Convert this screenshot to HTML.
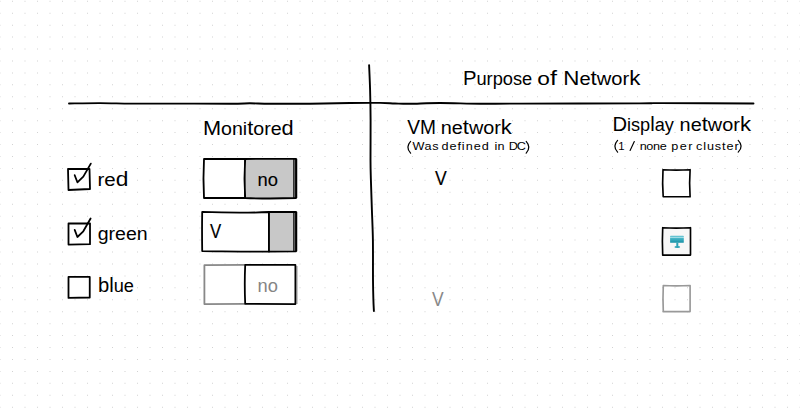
<!DOCTYPE html>
<html><head><meta charset="utf-8">
<style>
html,body{margin:0;padding:0;background:#fff;}
body{width:800px;height:408px;overflow:hidden;}
svg{display:block;}
text{font-family:"Liberation Sans",sans-serif;}
</style></head>
<body>
<svg width="800" height="408" viewBox="0 0 800 408">
<rect width="800" height="408" fill="#fff"/>
<path fill="#d2d2d2" d="M-0.5 0.76h1v1h-1zM12 0.76h1v1h-1zM24.5 0.76h1v1h-1zM37 0.76h1v1h-1zM49.5 0.76h1v1h-1zM62 0.76h1v1h-1zM74.5 0.76h1v1h-1zM87 0.76h1v1h-1zM99.5 0.76h1v1h-1zM112 0.76h1v1h-1zM124.5 0.76h1v1h-1zM137 0.76h1v1h-1zM149.5 0.76h1v1h-1zM162 0.76h1v1h-1zM174.5 0.76h1v1h-1zM187 0.76h1v1h-1zM199.5 0.76h1v1h-1zM212 0.76h1v1h-1zM224.5 0.76h1v1h-1zM237 0.76h1v1h-1zM249.5 0.76h1v1h-1zM262 0.76h1v1h-1zM274.5 0.76h1v1h-1zM287 0.76h1v1h-1zM299.5 0.76h1v1h-1zM312 0.76h1v1h-1zM324.5 0.76h1v1h-1zM337 0.76h1v1h-1zM349.5 0.76h1v1h-1zM362 0.76h1v1h-1zM374.5 0.76h1v1h-1zM387 0.76h1v1h-1zM399.5 0.76h1v1h-1zM412 0.76h1v1h-1zM424.5 0.76h1v1h-1zM437 0.76h1v1h-1zM449.5 0.76h1v1h-1zM462 0.76h1v1h-1zM474.5 0.76h1v1h-1zM487 0.76h1v1h-1zM499.5 0.76h1v1h-1zM512 0.76h1v1h-1zM524.5 0.76h1v1h-1zM537 0.76h1v1h-1zM549.5 0.76h1v1h-1zM562 0.76h1v1h-1zM574.5 0.76h1v1h-1zM587 0.76h1v1h-1zM599.5 0.76h1v1h-1zM612 0.76h1v1h-1zM624.5 0.76h1v1h-1zM637 0.76h1v1h-1zM649.5 0.76h1v1h-1zM662 0.76h1v1h-1zM674.5 0.76h1v1h-1zM687 0.76h1v1h-1zM699.5 0.76h1v1h-1zM712 0.76h1v1h-1zM724.5 0.76h1v1h-1zM737 0.76h1v1h-1zM749.5 0.76h1v1h-1zM762 0.76h1v1h-1zM774.5 0.76h1v1h-1zM787 0.76h1v1h-1zM799.5 0.76h1v1h-1zM-0.5 12.70h1v1h-1zM12 12.70h1v1h-1zM24.5 12.70h1v1h-1zM37 12.70h1v1h-1zM49.5 12.70h1v1h-1zM62 12.70h1v1h-1zM74.5 12.70h1v1h-1zM87 12.70h1v1h-1zM99.5 12.70h1v1h-1zM112 12.70h1v1h-1zM124.5 12.70h1v1h-1zM137 12.70h1v1h-1zM149.5 12.70h1v1h-1zM162 12.70h1v1h-1zM174.5 12.70h1v1h-1zM187 12.70h1v1h-1zM199.5 12.70h1v1h-1zM212 12.70h1v1h-1zM224.5 12.70h1v1h-1zM237 12.70h1v1h-1zM249.5 12.70h1v1h-1zM262 12.70h1v1h-1zM274.5 12.70h1v1h-1zM287 12.70h1v1h-1zM299.5 12.70h1v1h-1zM312 12.70h1v1h-1zM324.5 12.70h1v1h-1zM337 12.70h1v1h-1zM349.5 12.70h1v1h-1zM362 12.70h1v1h-1zM374.5 12.70h1v1h-1zM387 12.70h1v1h-1zM399.5 12.70h1v1h-1zM412 12.70h1v1h-1zM424.5 12.70h1v1h-1zM437 12.70h1v1h-1zM449.5 12.70h1v1h-1zM462 12.70h1v1h-1zM474.5 12.70h1v1h-1zM487 12.70h1v1h-1zM499.5 12.70h1v1h-1zM512 12.70h1v1h-1zM524.5 12.70h1v1h-1zM537 12.70h1v1h-1zM549.5 12.70h1v1h-1zM562 12.70h1v1h-1zM574.5 12.70h1v1h-1zM587 12.70h1v1h-1zM599.5 12.70h1v1h-1zM612 12.70h1v1h-1zM624.5 12.70h1v1h-1zM637 12.70h1v1h-1zM649.5 12.70h1v1h-1zM662 12.70h1v1h-1zM674.5 12.70h1v1h-1zM687 12.70h1v1h-1zM699.5 12.70h1v1h-1zM712 12.70h1v1h-1zM724.5 12.70h1v1h-1zM737 12.70h1v1h-1zM749.5 12.70h1v1h-1zM762 12.70h1v1h-1zM774.5 12.70h1v1h-1zM787 12.70h1v1h-1zM799.5 12.70h1v1h-1zM-0.5 24.64h1v1h-1zM12 24.64h1v1h-1zM24.5 24.64h1v1h-1zM37 24.64h1v1h-1zM49.5 24.64h1v1h-1zM62 24.64h1v1h-1zM74.5 24.64h1v1h-1zM87 24.64h1v1h-1zM99.5 24.64h1v1h-1zM112 24.64h1v1h-1zM124.5 24.64h1v1h-1zM137 24.64h1v1h-1zM149.5 24.64h1v1h-1zM162 24.64h1v1h-1zM174.5 24.64h1v1h-1zM187 24.64h1v1h-1zM199.5 24.64h1v1h-1zM212 24.64h1v1h-1zM224.5 24.64h1v1h-1zM237 24.64h1v1h-1zM249.5 24.64h1v1h-1zM262 24.64h1v1h-1zM274.5 24.64h1v1h-1zM287 24.64h1v1h-1zM299.5 24.64h1v1h-1zM312 24.64h1v1h-1zM324.5 24.64h1v1h-1zM337 24.64h1v1h-1zM349.5 24.64h1v1h-1zM362 24.64h1v1h-1zM374.5 24.64h1v1h-1zM387 24.64h1v1h-1zM399.5 24.64h1v1h-1zM412 24.64h1v1h-1zM424.5 24.64h1v1h-1zM437 24.64h1v1h-1zM449.5 24.64h1v1h-1zM462 24.64h1v1h-1zM474.5 24.64h1v1h-1zM487 24.64h1v1h-1zM499.5 24.64h1v1h-1zM512 24.64h1v1h-1zM524.5 24.64h1v1h-1zM537 24.64h1v1h-1zM549.5 24.64h1v1h-1zM562 24.64h1v1h-1zM574.5 24.64h1v1h-1zM587 24.64h1v1h-1zM599.5 24.64h1v1h-1zM612 24.64h1v1h-1zM624.5 24.64h1v1h-1zM637 24.64h1v1h-1zM649.5 24.64h1v1h-1zM662 24.64h1v1h-1zM674.5 24.64h1v1h-1zM687 24.64h1v1h-1zM699.5 24.64h1v1h-1zM712 24.64h1v1h-1zM724.5 24.64h1v1h-1zM737 24.64h1v1h-1zM749.5 24.64h1v1h-1zM762 24.64h1v1h-1zM774.5 24.64h1v1h-1zM787 24.64h1v1h-1zM799.5 24.64h1v1h-1zM-0.5 36.58h1v1h-1zM12 36.58h1v1h-1zM24.5 36.58h1v1h-1zM37 36.58h1v1h-1zM49.5 36.58h1v1h-1zM62 36.58h1v1h-1zM74.5 36.58h1v1h-1zM87 36.58h1v1h-1zM99.5 36.58h1v1h-1zM112 36.58h1v1h-1zM124.5 36.58h1v1h-1zM137 36.58h1v1h-1zM149.5 36.58h1v1h-1zM162 36.58h1v1h-1zM174.5 36.58h1v1h-1zM187 36.58h1v1h-1zM199.5 36.58h1v1h-1zM212 36.58h1v1h-1zM224.5 36.58h1v1h-1zM237 36.58h1v1h-1zM249.5 36.58h1v1h-1zM262 36.58h1v1h-1zM274.5 36.58h1v1h-1zM287 36.58h1v1h-1zM299.5 36.58h1v1h-1zM312 36.58h1v1h-1zM324.5 36.58h1v1h-1zM337 36.58h1v1h-1zM349.5 36.58h1v1h-1zM362 36.58h1v1h-1zM374.5 36.58h1v1h-1zM387 36.58h1v1h-1zM399.5 36.58h1v1h-1zM412 36.58h1v1h-1zM424.5 36.58h1v1h-1zM437 36.58h1v1h-1zM449.5 36.58h1v1h-1zM462 36.58h1v1h-1zM474.5 36.58h1v1h-1zM487 36.58h1v1h-1zM499.5 36.58h1v1h-1zM512 36.58h1v1h-1zM524.5 36.58h1v1h-1zM537 36.58h1v1h-1zM549.5 36.58h1v1h-1zM562 36.58h1v1h-1zM574.5 36.58h1v1h-1zM587 36.58h1v1h-1zM599.5 36.58h1v1h-1zM612 36.58h1v1h-1zM624.5 36.58h1v1h-1zM637 36.58h1v1h-1zM649.5 36.58h1v1h-1zM662 36.58h1v1h-1zM674.5 36.58h1v1h-1zM687 36.58h1v1h-1zM699.5 36.58h1v1h-1zM712 36.58h1v1h-1zM724.5 36.58h1v1h-1zM737 36.58h1v1h-1zM749.5 36.58h1v1h-1zM762 36.58h1v1h-1zM774.5 36.58h1v1h-1zM787 36.58h1v1h-1zM799.5 36.58h1v1h-1zM-0.5 48.52h1v1h-1zM12 48.52h1v1h-1zM24.5 48.52h1v1h-1zM37 48.52h1v1h-1zM49.5 48.52h1v1h-1zM62 48.52h1v1h-1zM74.5 48.52h1v1h-1zM87 48.52h1v1h-1zM99.5 48.52h1v1h-1zM112 48.52h1v1h-1zM124.5 48.52h1v1h-1zM137 48.52h1v1h-1zM149.5 48.52h1v1h-1zM162 48.52h1v1h-1zM174.5 48.52h1v1h-1zM187 48.52h1v1h-1zM199.5 48.52h1v1h-1zM212 48.52h1v1h-1zM224.5 48.52h1v1h-1zM237 48.52h1v1h-1zM249.5 48.52h1v1h-1zM262 48.52h1v1h-1zM274.5 48.52h1v1h-1zM287 48.52h1v1h-1zM299.5 48.52h1v1h-1zM312 48.52h1v1h-1zM324.5 48.52h1v1h-1zM337 48.52h1v1h-1zM349.5 48.52h1v1h-1zM362 48.52h1v1h-1zM374.5 48.52h1v1h-1zM387 48.52h1v1h-1zM399.5 48.52h1v1h-1zM412 48.52h1v1h-1zM424.5 48.52h1v1h-1zM437 48.52h1v1h-1zM449.5 48.52h1v1h-1zM462 48.52h1v1h-1zM474.5 48.52h1v1h-1zM487 48.52h1v1h-1zM499.5 48.52h1v1h-1zM512 48.52h1v1h-1zM524.5 48.52h1v1h-1zM537 48.52h1v1h-1zM549.5 48.52h1v1h-1zM562 48.52h1v1h-1zM574.5 48.52h1v1h-1zM587 48.52h1v1h-1zM599.5 48.52h1v1h-1zM612 48.52h1v1h-1zM624.5 48.52h1v1h-1zM637 48.52h1v1h-1zM649.5 48.52h1v1h-1zM662 48.52h1v1h-1zM674.5 48.52h1v1h-1zM687 48.52h1v1h-1zM699.5 48.52h1v1h-1zM712 48.52h1v1h-1zM724.5 48.52h1v1h-1zM737 48.52h1v1h-1zM749.5 48.52h1v1h-1zM762 48.52h1v1h-1zM774.5 48.52h1v1h-1zM787 48.52h1v1h-1zM799.5 48.52h1v1h-1zM-0.5 60.46h1v1h-1zM12 60.46h1v1h-1zM24.5 60.46h1v1h-1zM37 60.46h1v1h-1zM49.5 60.46h1v1h-1zM62 60.46h1v1h-1zM74.5 60.46h1v1h-1zM87 60.46h1v1h-1zM99.5 60.46h1v1h-1zM112 60.46h1v1h-1zM124.5 60.46h1v1h-1zM137 60.46h1v1h-1zM149.5 60.46h1v1h-1zM162 60.46h1v1h-1zM174.5 60.46h1v1h-1zM187 60.46h1v1h-1zM199.5 60.46h1v1h-1zM212 60.46h1v1h-1zM224.5 60.46h1v1h-1zM237 60.46h1v1h-1zM249.5 60.46h1v1h-1zM262 60.46h1v1h-1zM274.5 60.46h1v1h-1zM287 60.46h1v1h-1zM299.5 60.46h1v1h-1zM312 60.46h1v1h-1zM324.5 60.46h1v1h-1zM337 60.46h1v1h-1zM349.5 60.46h1v1h-1zM362 60.46h1v1h-1zM374.5 60.46h1v1h-1zM387 60.46h1v1h-1zM399.5 60.46h1v1h-1zM412 60.46h1v1h-1zM424.5 60.46h1v1h-1zM437 60.46h1v1h-1zM449.5 60.46h1v1h-1zM462 60.46h1v1h-1zM474.5 60.46h1v1h-1zM487 60.46h1v1h-1zM499.5 60.46h1v1h-1zM512 60.46h1v1h-1zM524.5 60.46h1v1h-1zM537 60.46h1v1h-1zM549.5 60.46h1v1h-1zM562 60.46h1v1h-1zM574.5 60.46h1v1h-1zM587 60.46h1v1h-1zM599.5 60.46h1v1h-1zM612 60.46h1v1h-1zM624.5 60.46h1v1h-1zM637 60.46h1v1h-1zM649.5 60.46h1v1h-1zM662 60.46h1v1h-1zM674.5 60.46h1v1h-1zM687 60.46h1v1h-1zM699.5 60.46h1v1h-1zM712 60.46h1v1h-1zM724.5 60.46h1v1h-1zM737 60.46h1v1h-1zM749.5 60.46h1v1h-1zM762 60.46h1v1h-1zM774.5 60.46h1v1h-1zM787 60.46h1v1h-1zM799.5 60.46h1v1h-1zM-0.5 72.40h1v1h-1zM12 72.40h1v1h-1zM24.5 72.40h1v1h-1zM37 72.40h1v1h-1zM49.5 72.40h1v1h-1zM62 72.40h1v1h-1zM74.5 72.40h1v1h-1zM87 72.40h1v1h-1zM99.5 72.40h1v1h-1zM112 72.40h1v1h-1zM124.5 72.40h1v1h-1zM137 72.40h1v1h-1zM149.5 72.40h1v1h-1zM162 72.40h1v1h-1zM174.5 72.40h1v1h-1zM187 72.40h1v1h-1zM199.5 72.40h1v1h-1zM212 72.40h1v1h-1zM224.5 72.40h1v1h-1zM237 72.40h1v1h-1zM249.5 72.40h1v1h-1zM262 72.40h1v1h-1zM274.5 72.40h1v1h-1zM287 72.40h1v1h-1zM299.5 72.40h1v1h-1zM312 72.40h1v1h-1zM324.5 72.40h1v1h-1zM337 72.40h1v1h-1zM349.5 72.40h1v1h-1zM362 72.40h1v1h-1zM374.5 72.40h1v1h-1zM387 72.40h1v1h-1zM399.5 72.40h1v1h-1zM412 72.40h1v1h-1zM424.5 72.40h1v1h-1zM437 72.40h1v1h-1zM449.5 72.40h1v1h-1zM462 72.40h1v1h-1zM474.5 72.40h1v1h-1zM487 72.40h1v1h-1zM499.5 72.40h1v1h-1zM512 72.40h1v1h-1zM524.5 72.40h1v1h-1zM537 72.40h1v1h-1zM549.5 72.40h1v1h-1zM562 72.40h1v1h-1zM574.5 72.40h1v1h-1zM587 72.40h1v1h-1zM599.5 72.40h1v1h-1zM612 72.40h1v1h-1zM624.5 72.40h1v1h-1zM637 72.40h1v1h-1zM649.5 72.40h1v1h-1zM662 72.40h1v1h-1zM674.5 72.40h1v1h-1zM687 72.40h1v1h-1zM699.5 72.40h1v1h-1zM712 72.40h1v1h-1zM724.5 72.40h1v1h-1zM737 72.40h1v1h-1zM749.5 72.40h1v1h-1zM762 72.40h1v1h-1zM774.5 72.40h1v1h-1zM787 72.40h1v1h-1zM799.5 72.40h1v1h-1zM-0.5 84.34h1v1h-1zM12 84.34h1v1h-1zM24.5 84.34h1v1h-1zM37 84.34h1v1h-1zM49.5 84.34h1v1h-1zM62 84.34h1v1h-1zM74.5 84.34h1v1h-1zM87 84.34h1v1h-1zM99.5 84.34h1v1h-1zM112 84.34h1v1h-1zM124.5 84.34h1v1h-1zM137 84.34h1v1h-1zM149.5 84.34h1v1h-1zM162 84.34h1v1h-1zM174.5 84.34h1v1h-1zM187 84.34h1v1h-1zM199.5 84.34h1v1h-1zM212 84.34h1v1h-1zM224.5 84.34h1v1h-1zM237 84.34h1v1h-1zM249.5 84.34h1v1h-1zM262 84.34h1v1h-1zM274.5 84.34h1v1h-1zM287 84.34h1v1h-1zM299.5 84.34h1v1h-1zM312 84.34h1v1h-1zM324.5 84.34h1v1h-1zM337 84.34h1v1h-1zM349.5 84.34h1v1h-1zM362 84.34h1v1h-1zM374.5 84.34h1v1h-1zM387 84.34h1v1h-1zM399.5 84.34h1v1h-1zM412 84.34h1v1h-1zM424.5 84.34h1v1h-1zM437 84.34h1v1h-1zM449.5 84.34h1v1h-1zM462 84.34h1v1h-1zM474.5 84.34h1v1h-1zM487 84.34h1v1h-1zM499.5 84.34h1v1h-1zM512 84.34h1v1h-1zM524.5 84.34h1v1h-1zM537 84.34h1v1h-1zM549.5 84.34h1v1h-1zM562 84.34h1v1h-1zM574.5 84.34h1v1h-1zM587 84.34h1v1h-1zM599.5 84.34h1v1h-1zM612 84.34h1v1h-1zM624.5 84.34h1v1h-1zM637 84.34h1v1h-1zM649.5 84.34h1v1h-1zM662 84.34h1v1h-1zM674.5 84.34h1v1h-1zM687 84.34h1v1h-1zM699.5 84.34h1v1h-1zM712 84.34h1v1h-1zM724.5 84.34h1v1h-1zM737 84.34h1v1h-1zM749.5 84.34h1v1h-1zM762 84.34h1v1h-1zM774.5 84.34h1v1h-1zM787 84.34h1v1h-1zM799.5 84.34h1v1h-1zM-0.5 96.28h1v1h-1zM12 96.28h1v1h-1zM24.5 96.28h1v1h-1zM37 96.28h1v1h-1zM49.5 96.28h1v1h-1zM62 96.28h1v1h-1zM74.5 96.28h1v1h-1zM87 96.28h1v1h-1zM99.5 96.28h1v1h-1zM112 96.28h1v1h-1zM124.5 96.28h1v1h-1zM137 96.28h1v1h-1zM149.5 96.28h1v1h-1zM162 96.28h1v1h-1zM174.5 96.28h1v1h-1zM187 96.28h1v1h-1zM199.5 96.28h1v1h-1zM212 96.28h1v1h-1zM224.5 96.28h1v1h-1zM237 96.28h1v1h-1zM249.5 96.28h1v1h-1zM262 96.28h1v1h-1zM274.5 96.28h1v1h-1zM287 96.28h1v1h-1zM299.5 96.28h1v1h-1zM312 96.28h1v1h-1zM324.5 96.28h1v1h-1zM337 96.28h1v1h-1zM349.5 96.28h1v1h-1zM362 96.28h1v1h-1zM374.5 96.28h1v1h-1zM387 96.28h1v1h-1zM399.5 96.28h1v1h-1zM412 96.28h1v1h-1zM424.5 96.28h1v1h-1zM437 96.28h1v1h-1zM449.5 96.28h1v1h-1zM462 96.28h1v1h-1zM474.5 96.28h1v1h-1zM487 96.28h1v1h-1zM499.5 96.28h1v1h-1zM512 96.28h1v1h-1zM524.5 96.28h1v1h-1zM537 96.28h1v1h-1zM549.5 96.28h1v1h-1zM562 96.28h1v1h-1zM574.5 96.28h1v1h-1zM587 96.28h1v1h-1zM599.5 96.28h1v1h-1zM612 96.28h1v1h-1zM624.5 96.28h1v1h-1zM637 96.28h1v1h-1zM649.5 96.28h1v1h-1zM662 96.28h1v1h-1zM674.5 96.28h1v1h-1zM687 96.28h1v1h-1zM699.5 96.28h1v1h-1zM712 96.28h1v1h-1zM724.5 96.28h1v1h-1zM737 96.28h1v1h-1zM749.5 96.28h1v1h-1zM762 96.28h1v1h-1zM774.5 96.28h1v1h-1zM787 96.28h1v1h-1zM799.5 96.28h1v1h-1zM-0.5 108.22h1v1h-1zM12 108.22h1v1h-1zM24.5 108.22h1v1h-1zM37 108.22h1v1h-1zM49.5 108.22h1v1h-1zM62 108.22h1v1h-1zM74.5 108.22h1v1h-1zM87 108.22h1v1h-1zM99.5 108.22h1v1h-1zM112 108.22h1v1h-1zM124.5 108.22h1v1h-1zM137 108.22h1v1h-1zM149.5 108.22h1v1h-1zM162 108.22h1v1h-1zM174.5 108.22h1v1h-1zM187 108.22h1v1h-1zM199.5 108.22h1v1h-1zM212 108.22h1v1h-1zM224.5 108.22h1v1h-1zM237 108.22h1v1h-1zM249.5 108.22h1v1h-1zM262 108.22h1v1h-1zM274.5 108.22h1v1h-1zM287 108.22h1v1h-1zM299.5 108.22h1v1h-1zM312 108.22h1v1h-1zM324.5 108.22h1v1h-1zM337 108.22h1v1h-1zM349.5 108.22h1v1h-1zM362 108.22h1v1h-1zM374.5 108.22h1v1h-1zM387 108.22h1v1h-1zM399.5 108.22h1v1h-1zM412 108.22h1v1h-1zM424.5 108.22h1v1h-1zM437 108.22h1v1h-1zM449.5 108.22h1v1h-1zM462 108.22h1v1h-1zM474.5 108.22h1v1h-1zM487 108.22h1v1h-1zM499.5 108.22h1v1h-1zM512 108.22h1v1h-1zM524.5 108.22h1v1h-1zM537 108.22h1v1h-1zM549.5 108.22h1v1h-1zM562 108.22h1v1h-1zM574.5 108.22h1v1h-1zM587 108.22h1v1h-1zM599.5 108.22h1v1h-1zM612 108.22h1v1h-1zM624.5 108.22h1v1h-1zM637 108.22h1v1h-1zM649.5 108.22h1v1h-1zM662 108.22h1v1h-1zM674.5 108.22h1v1h-1zM687 108.22h1v1h-1zM699.5 108.22h1v1h-1zM712 108.22h1v1h-1zM724.5 108.22h1v1h-1zM737 108.22h1v1h-1zM749.5 108.22h1v1h-1zM762 108.22h1v1h-1zM774.5 108.22h1v1h-1zM787 108.22h1v1h-1zM799.5 108.22h1v1h-1zM-0.5 120.16h1v1h-1zM12 120.16h1v1h-1zM24.5 120.16h1v1h-1zM37 120.16h1v1h-1zM49.5 120.16h1v1h-1zM62 120.16h1v1h-1zM74.5 120.16h1v1h-1zM87 120.16h1v1h-1zM99.5 120.16h1v1h-1zM112 120.16h1v1h-1zM124.5 120.16h1v1h-1zM137 120.16h1v1h-1zM149.5 120.16h1v1h-1zM162 120.16h1v1h-1zM174.5 120.16h1v1h-1zM187 120.16h1v1h-1zM199.5 120.16h1v1h-1zM212 120.16h1v1h-1zM224.5 120.16h1v1h-1zM237 120.16h1v1h-1zM249.5 120.16h1v1h-1zM262 120.16h1v1h-1zM274.5 120.16h1v1h-1zM287 120.16h1v1h-1zM299.5 120.16h1v1h-1zM312 120.16h1v1h-1zM324.5 120.16h1v1h-1zM337 120.16h1v1h-1zM349.5 120.16h1v1h-1zM362 120.16h1v1h-1zM374.5 120.16h1v1h-1zM387 120.16h1v1h-1zM399.5 120.16h1v1h-1zM412 120.16h1v1h-1zM424.5 120.16h1v1h-1zM437 120.16h1v1h-1zM449.5 120.16h1v1h-1zM462 120.16h1v1h-1zM474.5 120.16h1v1h-1zM487 120.16h1v1h-1zM499.5 120.16h1v1h-1zM512 120.16h1v1h-1zM524.5 120.16h1v1h-1zM537 120.16h1v1h-1zM549.5 120.16h1v1h-1zM562 120.16h1v1h-1zM574.5 120.16h1v1h-1zM587 120.16h1v1h-1zM599.5 120.16h1v1h-1zM612 120.16h1v1h-1zM624.5 120.16h1v1h-1zM637 120.16h1v1h-1zM649.5 120.16h1v1h-1zM662 120.16h1v1h-1zM674.5 120.16h1v1h-1zM687 120.16h1v1h-1zM699.5 120.16h1v1h-1zM712 120.16h1v1h-1zM724.5 120.16h1v1h-1zM737 120.16h1v1h-1zM749.5 120.16h1v1h-1zM762 120.16h1v1h-1zM774.5 120.16h1v1h-1zM787 120.16h1v1h-1zM799.5 120.16h1v1h-1zM-0.5 132.10h1v1h-1zM12 132.10h1v1h-1zM24.5 132.10h1v1h-1zM37 132.10h1v1h-1zM49.5 132.10h1v1h-1zM62 132.10h1v1h-1zM74.5 132.10h1v1h-1zM87 132.10h1v1h-1zM99.5 132.10h1v1h-1zM112 132.10h1v1h-1zM124.5 132.10h1v1h-1zM137 132.10h1v1h-1zM149.5 132.10h1v1h-1zM162 132.10h1v1h-1zM174.5 132.10h1v1h-1zM187 132.10h1v1h-1zM199.5 132.10h1v1h-1zM212 132.10h1v1h-1zM224.5 132.10h1v1h-1zM237 132.10h1v1h-1zM249.5 132.10h1v1h-1zM262 132.10h1v1h-1zM274.5 132.10h1v1h-1zM287 132.10h1v1h-1zM299.5 132.10h1v1h-1zM312 132.10h1v1h-1zM324.5 132.10h1v1h-1zM337 132.10h1v1h-1zM349.5 132.10h1v1h-1zM362 132.10h1v1h-1zM374.5 132.10h1v1h-1zM387 132.10h1v1h-1zM399.5 132.10h1v1h-1zM412 132.10h1v1h-1zM424.5 132.10h1v1h-1zM437 132.10h1v1h-1zM449.5 132.10h1v1h-1zM462 132.10h1v1h-1zM474.5 132.10h1v1h-1zM487 132.10h1v1h-1zM499.5 132.10h1v1h-1zM512 132.10h1v1h-1zM524.5 132.10h1v1h-1zM537 132.10h1v1h-1zM549.5 132.10h1v1h-1zM562 132.10h1v1h-1zM574.5 132.10h1v1h-1zM587 132.10h1v1h-1zM599.5 132.10h1v1h-1zM612 132.10h1v1h-1zM624.5 132.10h1v1h-1zM637 132.10h1v1h-1zM649.5 132.10h1v1h-1zM662 132.10h1v1h-1zM674.5 132.10h1v1h-1zM687 132.10h1v1h-1zM699.5 132.10h1v1h-1zM712 132.10h1v1h-1zM724.5 132.10h1v1h-1zM737 132.10h1v1h-1zM749.5 132.10h1v1h-1zM762 132.10h1v1h-1zM774.5 132.10h1v1h-1zM787 132.10h1v1h-1zM799.5 132.10h1v1h-1zM-0.5 144.04h1v1h-1zM12 144.04h1v1h-1zM24.5 144.04h1v1h-1zM37 144.04h1v1h-1zM49.5 144.04h1v1h-1zM62 144.04h1v1h-1zM74.5 144.04h1v1h-1zM87 144.04h1v1h-1zM99.5 144.04h1v1h-1zM112 144.04h1v1h-1zM124.5 144.04h1v1h-1zM137 144.04h1v1h-1zM149.5 144.04h1v1h-1zM162 144.04h1v1h-1zM174.5 144.04h1v1h-1zM187 144.04h1v1h-1zM199.5 144.04h1v1h-1zM212 144.04h1v1h-1zM224.5 144.04h1v1h-1zM237 144.04h1v1h-1zM249.5 144.04h1v1h-1zM262 144.04h1v1h-1zM274.5 144.04h1v1h-1zM287 144.04h1v1h-1zM299.5 144.04h1v1h-1zM312 144.04h1v1h-1zM324.5 144.04h1v1h-1zM337 144.04h1v1h-1zM349.5 144.04h1v1h-1zM362 144.04h1v1h-1zM374.5 144.04h1v1h-1zM387 144.04h1v1h-1zM399.5 144.04h1v1h-1zM412 144.04h1v1h-1zM424.5 144.04h1v1h-1zM437 144.04h1v1h-1zM449.5 144.04h1v1h-1zM462 144.04h1v1h-1zM474.5 144.04h1v1h-1zM487 144.04h1v1h-1zM499.5 144.04h1v1h-1zM512 144.04h1v1h-1zM524.5 144.04h1v1h-1zM537 144.04h1v1h-1zM549.5 144.04h1v1h-1zM562 144.04h1v1h-1zM574.5 144.04h1v1h-1zM587 144.04h1v1h-1zM599.5 144.04h1v1h-1zM612 144.04h1v1h-1zM624.5 144.04h1v1h-1zM637 144.04h1v1h-1zM649.5 144.04h1v1h-1zM662 144.04h1v1h-1zM674.5 144.04h1v1h-1zM687 144.04h1v1h-1zM699.5 144.04h1v1h-1zM712 144.04h1v1h-1zM724.5 144.04h1v1h-1zM737 144.04h1v1h-1zM749.5 144.04h1v1h-1zM762 144.04h1v1h-1zM774.5 144.04h1v1h-1zM787 144.04h1v1h-1zM799.5 144.04h1v1h-1zM-0.5 155.98h1v1h-1zM12 155.98h1v1h-1zM24.5 155.98h1v1h-1zM37 155.98h1v1h-1zM49.5 155.98h1v1h-1zM62 155.98h1v1h-1zM74.5 155.98h1v1h-1zM87 155.98h1v1h-1zM99.5 155.98h1v1h-1zM112 155.98h1v1h-1zM124.5 155.98h1v1h-1zM137 155.98h1v1h-1zM149.5 155.98h1v1h-1zM162 155.98h1v1h-1zM174.5 155.98h1v1h-1zM187 155.98h1v1h-1zM199.5 155.98h1v1h-1zM212 155.98h1v1h-1zM224.5 155.98h1v1h-1zM237 155.98h1v1h-1zM249.5 155.98h1v1h-1zM262 155.98h1v1h-1zM274.5 155.98h1v1h-1zM287 155.98h1v1h-1zM299.5 155.98h1v1h-1zM312 155.98h1v1h-1zM324.5 155.98h1v1h-1zM337 155.98h1v1h-1zM349.5 155.98h1v1h-1zM362 155.98h1v1h-1zM374.5 155.98h1v1h-1zM387 155.98h1v1h-1zM399.5 155.98h1v1h-1zM412 155.98h1v1h-1zM424.5 155.98h1v1h-1zM437 155.98h1v1h-1zM449.5 155.98h1v1h-1zM462 155.98h1v1h-1zM474.5 155.98h1v1h-1zM487 155.98h1v1h-1zM499.5 155.98h1v1h-1zM512 155.98h1v1h-1zM524.5 155.98h1v1h-1zM537 155.98h1v1h-1zM549.5 155.98h1v1h-1zM562 155.98h1v1h-1zM574.5 155.98h1v1h-1zM587 155.98h1v1h-1zM599.5 155.98h1v1h-1zM612 155.98h1v1h-1zM624.5 155.98h1v1h-1zM637 155.98h1v1h-1zM649.5 155.98h1v1h-1zM662 155.98h1v1h-1zM674.5 155.98h1v1h-1zM687 155.98h1v1h-1zM699.5 155.98h1v1h-1zM712 155.98h1v1h-1zM724.5 155.98h1v1h-1zM737 155.98h1v1h-1zM749.5 155.98h1v1h-1zM762 155.98h1v1h-1zM774.5 155.98h1v1h-1zM787 155.98h1v1h-1zM799.5 155.98h1v1h-1zM-0.5 167.92h1v1h-1zM12 167.92h1v1h-1zM24.5 167.92h1v1h-1zM37 167.92h1v1h-1zM49.5 167.92h1v1h-1zM62 167.92h1v1h-1zM74.5 167.92h1v1h-1zM87 167.92h1v1h-1zM99.5 167.92h1v1h-1zM112 167.92h1v1h-1zM124.5 167.92h1v1h-1zM137 167.92h1v1h-1zM149.5 167.92h1v1h-1zM162 167.92h1v1h-1zM174.5 167.92h1v1h-1zM187 167.92h1v1h-1zM199.5 167.92h1v1h-1zM212 167.92h1v1h-1zM224.5 167.92h1v1h-1zM237 167.92h1v1h-1zM249.5 167.92h1v1h-1zM262 167.92h1v1h-1zM274.5 167.92h1v1h-1zM287 167.92h1v1h-1zM299.5 167.92h1v1h-1zM312 167.92h1v1h-1zM324.5 167.92h1v1h-1zM337 167.92h1v1h-1zM349.5 167.92h1v1h-1zM362 167.92h1v1h-1zM374.5 167.92h1v1h-1zM387 167.92h1v1h-1zM399.5 167.92h1v1h-1zM412 167.92h1v1h-1zM424.5 167.92h1v1h-1zM437 167.92h1v1h-1zM449.5 167.92h1v1h-1zM462 167.92h1v1h-1zM474.5 167.92h1v1h-1zM487 167.92h1v1h-1zM499.5 167.92h1v1h-1zM512 167.92h1v1h-1zM524.5 167.92h1v1h-1zM537 167.92h1v1h-1zM549.5 167.92h1v1h-1zM562 167.92h1v1h-1zM574.5 167.92h1v1h-1zM587 167.92h1v1h-1zM599.5 167.92h1v1h-1zM612 167.92h1v1h-1zM624.5 167.92h1v1h-1zM637 167.92h1v1h-1zM649.5 167.92h1v1h-1zM662 167.92h1v1h-1zM674.5 167.92h1v1h-1zM687 167.92h1v1h-1zM699.5 167.92h1v1h-1zM712 167.92h1v1h-1zM724.5 167.92h1v1h-1zM737 167.92h1v1h-1zM749.5 167.92h1v1h-1zM762 167.92h1v1h-1zM774.5 167.92h1v1h-1zM787 167.92h1v1h-1zM799.5 167.92h1v1h-1zM-0.5 179.86h1v1h-1zM12 179.86h1v1h-1zM24.5 179.86h1v1h-1zM37 179.86h1v1h-1zM49.5 179.86h1v1h-1zM62 179.86h1v1h-1zM74.5 179.86h1v1h-1zM87 179.86h1v1h-1zM99.5 179.86h1v1h-1zM112 179.86h1v1h-1zM124.5 179.86h1v1h-1zM137 179.86h1v1h-1zM149.5 179.86h1v1h-1zM162 179.86h1v1h-1zM174.5 179.86h1v1h-1zM187 179.86h1v1h-1zM199.5 179.86h1v1h-1zM212 179.86h1v1h-1zM224.5 179.86h1v1h-1zM237 179.86h1v1h-1zM249.5 179.86h1v1h-1zM262 179.86h1v1h-1zM274.5 179.86h1v1h-1zM287 179.86h1v1h-1zM299.5 179.86h1v1h-1zM312 179.86h1v1h-1zM324.5 179.86h1v1h-1zM337 179.86h1v1h-1zM349.5 179.86h1v1h-1zM362 179.86h1v1h-1zM374.5 179.86h1v1h-1zM387 179.86h1v1h-1zM399.5 179.86h1v1h-1zM412 179.86h1v1h-1zM424.5 179.86h1v1h-1zM437 179.86h1v1h-1zM449.5 179.86h1v1h-1zM462 179.86h1v1h-1zM474.5 179.86h1v1h-1zM487 179.86h1v1h-1zM499.5 179.86h1v1h-1zM512 179.86h1v1h-1zM524.5 179.86h1v1h-1zM537 179.86h1v1h-1zM549.5 179.86h1v1h-1zM562 179.86h1v1h-1zM574.5 179.86h1v1h-1zM587 179.86h1v1h-1zM599.5 179.86h1v1h-1zM612 179.86h1v1h-1zM624.5 179.86h1v1h-1zM637 179.86h1v1h-1zM649.5 179.86h1v1h-1zM662 179.86h1v1h-1zM674.5 179.86h1v1h-1zM687 179.86h1v1h-1zM699.5 179.86h1v1h-1zM712 179.86h1v1h-1zM724.5 179.86h1v1h-1zM737 179.86h1v1h-1zM749.5 179.86h1v1h-1zM762 179.86h1v1h-1zM774.5 179.86h1v1h-1zM787 179.86h1v1h-1zM799.5 179.86h1v1h-1zM-0.5 191.80h1v1h-1zM12 191.80h1v1h-1zM24.5 191.80h1v1h-1zM37 191.80h1v1h-1zM49.5 191.80h1v1h-1zM62 191.80h1v1h-1zM74.5 191.80h1v1h-1zM87 191.80h1v1h-1zM99.5 191.80h1v1h-1zM112 191.80h1v1h-1zM124.5 191.80h1v1h-1zM137 191.80h1v1h-1zM149.5 191.80h1v1h-1zM162 191.80h1v1h-1zM174.5 191.80h1v1h-1zM187 191.80h1v1h-1zM199.5 191.80h1v1h-1zM212 191.80h1v1h-1zM224.5 191.80h1v1h-1zM237 191.80h1v1h-1zM249.5 191.80h1v1h-1zM262 191.80h1v1h-1zM274.5 191.80h1v1h-1zM287 191.80h1v1h-1zM299.5 191.80h1v1h-1zM312 191.80h1v1h-1zM324.5 191.80h1v1h-1zM337 191.80h1v1h-1zM349.5 191.80h1v1h-1zM362 191.80h1v1h-1zM374.5 191.80h1v1h-1zM387 191.80h1v1h-1zM399.5 191.80h1v1h-1zM412 191.80h1v1h-1zM424.5 191.80h1v1h-1zM437 191.80h1v1h-1zM449.5 191.80h1v1h-1zM462 191.80h1v1h-1zM474.5 191.80h1v1h-1zM487 191.80h1v1h-1zM499.5 191.80h1v1h-1zM512 191.80h1v1h-1zM524.5 191.80h1v1h-1zM537 191.80h1v1h-1zM549.5 191.80h1v1h-1zM562 191.80h1v1h-1zM574.5 191.80h1v1h-1zM587 191.80h1v1h-1zM599.5 191.80h1v1h-1zM612 191.80h1v1h-1zM624.5 191.80h1v1h-1zM637 191.80h1v1h-1zM649.5 191.80h1v1h-1zM662 191.80h1v1h-1zM674.5 191.80h1v1h-1zM687 191.80h1v1h-1zM699.5 191.80h1v1h-1zM712 191.80h1v1h-1zM724.5 191.80h1v1h-1zM737 191.80h1v1h-1zM749.5 191.80h1v1h-1zM762 191.80h1v1h-1zM774.5 191.80h1v1h-1zM787 191.80h1v1h-1zM799.5 191.80h1v1h-1zM-0.5 203.74h1v1h-1zM12 203.74h1v1h-1zM24.5 203.74h1v1h-1zM37 203.74h1v1h-1zM49.5 203.74h1v1h-1zM62 203.74h1v1h-1zM74.5 203.74h1v1h-1zM87 203.74h1v1h-1zM99.5 203.74h1v1h-1zM112 203.74h1v1h-1zM124.5 203.74h1v1h-1zM137 203.74h1v1h-1zM149.5 203.74h1v1h-1zM162 203.74h1v1h-1zM174.5 203.74h1v1h-1zM187 203.74h1v1h-1zM199.5 203.74h1v1h-1zM212 203.74h1v1h-1zM224.5 203.74h1v1h-1zM237 203.74h1v1h-1zM249.5 203.74h1v1h-1zM262 203.74h1v1h-1zM274.5 203.74h1v1h-1zM287 203.74h1v1h-1zM299.5 203.74h1v1h-1zM312 203.74h1v1h-1zM324.5 203.74h1v1h-1zM337 203.74h1v1h-1zM349.5 203.74h1v1h-1zM362 203.74h1v1h-1zM374.5 203.74h1v1h-1zM387 203.74h1v1h-1zM399.5 203.74h1v1h-1zM412 203.74h1v1h-1zM424.5 203.74h1v1h-1zM437 203.74h1v1h-1zM449.5 203.74h1v1h-1zM462 203.74h1v1h-1zM474.5 203.74h1v1h-1zM487 203.74h1v1h-1zM499.5 203.74h1v1h-1zM512 203.74h1v1h-1zM524.5 203.74h1v1h-1zM537 203.74h1v1h-1zM549.5 203.74h1v1h-1zM562 203.74h1v1h-1zM574.5 203.74h1v1h-1zM587 203.74h1v1h-1zM599.5 203.74h1v1h-1zM612 203.74h1v1h-1zM624.5 203.74h1v1h-1zM637 203.74h1v1h-1zM649.5 203.74h1v1h-1zM662 203.74h1v1h-1zM674.5 203.74h1v1h-1zM687 203.74h1v1h-1zM699.5 203.74h1v1h-1zM712 203.74h1v1h-1zM724.5 203.74h1v1h-1zM737 203.74h1v1h-1zM749.5 203.74h1v1h-1zM762 203.74h1v1h-1zM774.5 203.74h1v1h-1zM787 203.74h1v1h-1zM799.5 203.74h1v1h-1zM-0.5 215.68h1v1h-1zM12 215.68h1v1h-1zM24.5 215.68h1v1h-1zM37 215.68h1v1h-1zM49.5 215.68h1v1h-1zM62 215.68h1v1h-1zM74.5 215.68h1v1h-1zM87 215.68h1v1h-1zM99.5 215.68h1v1h-1zM112 215.68h1v1h-1zM124.5 215.68h1v1h-1zM137 215.68h1v1h-1zM149.5 215.68h1v1h-1zM162 215.68h1v1h-1zM174.5 215.68h1v1h-1zM187 215.68h1v1h-1zM199.5 215.68h1v1h-1zM212 215.68h1v1h-1zM224.5 215.68h1v1h-1zM237 215.68h1v1h-1zM249.5 215.68h1v1h-1zM262 215.68h1v1h-1zM274.5 215.68h1v1h-1zM287 215.68h1v1h-1zM299.5 215.68h1v1h-1zM312 215.68h1v1h-1zM324.5 215.68h1v1h-1zM337 215.68h1v1h-1zM349.5 215.68h1v1h-1zM362 215.68h1v1h-1zM374.5 215.68h1v1h-1zM387 215.68h1v1h-1zM399.5 215.68h1v1h-1zM412 215.68h1v1h-1zM424.5 215.68h1v1h-1zM437 215.68h1v1h-1zM449.5 215.68h1v1h-1zM462 215.68h1v1h-1zM474.5 215.68h1v1h-1zM487 215.68h1v1h-1zM499.5 215.68h1v1h-1zM512 215.68h1v1h-1zM524.5 215.68h1v1h-1zM537 215.68h1v1h-1zM549.5 215.68h1v1h-1zM562 215.68h1v1h-1zM574.5 215.68h1v1h-1zM587 215.68h1v1h-1zM599.5 215.68h1v1h-1zM612 215.68h1v1h-1zM624.5 215.68h1v1h-1zM637 215.68h1v1h-1zM649.5 215.68h1v1h-1zM662 215.68h1v1h-1zM674.5 215.68h1v1h-1zM687 215.68h1v1h-1zM699.5 215.68h1v1h-1zM712 215.68h1v1h-1zM724.5 215.68h1v1h-1zM737 215.68h1v1h-1zM749.5 215.68h1v1h-1zM762 215.68h1v1h-1zM774.5 215.68h1v1h-1zM787 215.68h1v1h-1zM799.5 215.68h1v1h-1zM-0.5 227.62h1v1h-1zM12 227.62h1v1h-1zM24.5 227.62h1v1h-1zM37 227.62h1v1h-1zM49.5 227.62h1v1h-1zM62 227.62h1v1h-1zM74.5 227.62h1v1h-1zM87 227.62h1v1h-1zM99.5 227.62h1v1h-1zM112 227.62h1v1h-1zM124.5 227.62h1v1h-1zM137 227.62h1v1h-1zM149.5 227.62h1v1h-1zM162 227.62h1v1h-1zM174.5 227.62h1v1h-1zM187 227.62h1v1h-1zM199.5 227.62h1v1h-1zM212 227.62h1v1h-1zM224.5 227.62h1v1h-1zM237 227.62h1v1h-1zM249.5 227.62h1v1h-1zM262 227.62h1v1h-1zM274.5 227.62h1v1h-1zM287 227.62h1v1h-1zM299.5 227.62h1v1h-1zM312 227.62h1v1h-1zM324.5 227.62h1v1h-1zM337 227.62h1v1h-1zM349.5 227.62h1v1h-1zM362 227.62h1v1h-1zM374.5 227.62h1v1h-1zM387 227.62h1v1h-1zM399.5 227.62h1v1h-1zM412 227.62h1v1h-1zM424.5 227.62h1v1h-1zM437 227.62h1v1h-1zM449.5 227.62h1v1h-1zM462 227.62h1v1h-1zM474.5 227.62h1v1h-1zM487 227.62h1v1h-1zM499.5 227.62h1v1h-1zM512 227.62h1v1h-1zM524.5 227.62h1v1h-1zM537 227.62h1v1h-1zM549.5 227.62h1v1h-1zM562 227.62h1v1h-1zM574.5 227.62h1v1h-1zM587 227.62h1v1h-1zM599.5 227.62h1v1h-1zM612 227.62h1v1h-1zM624.5 227.62h1v1h-1zM637 227.62h1v1h-1zM649.5 227.62h1v1h-1zM662 227.62h1v1h-1zM674.5 227.62h1v1h-1zM687 227.62h1v1h-1zM699.5 227.62h1v1h-1zM712 227.62h1v1h-1zM724.5 227.62h1v1h-1zM737 227.62h1v1h-1zM749.5 227.62h1v1h-1zM762 227.62h1v1h-1zM774.5 227.62h1v1h-1zM787 227.62h1v1h-1zM799.5 227.62h1v1h-1zM-0.5 239.56h1v1h-1zM12 239.56h1v1h-1zM24.5 239.56h1v1h-1zM37 239.56h1v1h-1zM49.5 239.56h1v1h-1zM62 239.56h1v1h-1zM74.5 239.56h1v1h-1zM87 239.56h1v1h-1zM99.5 239.56h1v1h-1zM112 239.56h1v1h-1zM124.5 239.56h1v1h-1zM137 239.56h1v1h-1zM149.5 239.56h1v1h-1zM162 239.56h1v1h-1zM174.5 239.56h1v1h-1zM187 239.56h1v1h-1zM199.5 239.56h1v1h-1zM212 239.56h1v1h-1zM224.5 239.56h1v1h-1zM237 239.56h1v1h-1zM249.5 239.56h1v1h-1zM262 239.56h1v1h-1zM274.5 239.56h1v1h-1zM287 239.56h1v1h-1zM299.5 239.56h1v1h-1zM312 239.56h1v1h-1zM324.5 239.56h1v1h-1zM337 239.56h1v1h-1zM349.5 239.56h1v1h-1zM362 239.56h1v1h-1zM374.5 239.56h1v1h-1zM387 239.56h1v1h-1zM399.5 239.56h1v1h-1zM412 239.56h1v1h-1zM424.5 239.56h1v1h-1zM437 239.56h1v1h-1zM449.5 239.56h1v1h-1zM462 239.56h1v1h-1zM474.5 239.56h1v1h-1zM487 239.56h1v1h-1zM499.5 239.56h1v1h-1zM512 239.56h1v1h-1zM524.5 239.56h1v1h-1zM537 239.56h1v1h-1zM549.5 239.56h1v1h-1zM562 239.56h1v1h-1zM574.5 239.56h1v1h-1zM587 239.56h1v1h-1zM599.5 239.56h1v1h-1zM612 239.56h1v1h-1zM624.5 239.56h1v1h-1zM637 239.56h1v1h-1zM649.5 239.56h1v1h-1zM662 239.56h1v1h-1zM674.5 239.56h1v1h-1zM687 239.56h1v1h-1zM699.5 239.56h1v1h-1zM712 239.56h1v1h-1zM724.5 239.56h1v1h-1zM737 239.56h1v1h-1zM749.5 239.56h1v1h-1zM762 239.56h1v1h-1zM774.5 239.56h1v1h-1zM787 239.56h1v1h-1zM799.5 239.56h1v1h-1zM-0.5 251.50h1v1h-1zM12 251.50h1v1h-1zM24.5 251.50h1v1h-1zM37 251.50h1v1h-1zM49.5 251.50h1v1h-1zM62 251.50h1v1h-1zM74.5 251.50h1v1h-1zM87 251.50h1v1h-1zM99.5 251.50h1v1h-1zM112 251.50h1v1h-1zM124.5 251.50h1v1h-1zM137 251.50h1v1h-1zM149.5 251.50h1v1h-1zM162 251.50h1v1h-1zM174.5 251.50h1v1h-1zM187 251.50h1v1h-1zM199.5 251.50h1v1h-1zM212 251.50h1v1h-1zM224.5 251.50h1v1h-1zM237 251.50h1v1h-1zM249.5 251.50h1v1h-1zM262 251.50h1v1h-1zM274.5 251.50h1v1h-1zM287 251.50h1v1h-1zM299.5 251.50h1v1h-1zM312 251.50h1v1h-1zM324.5 251.50h1v1h-1zM337 251.50h1v1h-1zM349.5 251.50h1v1h-1zM362 251.50h1v1h-1zM374.5 251.50h1v1h-1zM387 251.50h1v1h-1zM399.5 251.50h1v1h-1zM412 251.50h1v1h-1zM424.5 251.50h1v1h-1zM437 251.50h1v1h-1zM449.5 251.50h1v1h-1zM462 251.50h1v1h-1zM474.5 251.50h1v1h-1zM487 251.50h1v1h-1zM499.5 251.50h1v1h-1zM512 251.50h1v1h-1zM524.5 251.50h1v1h-1zM537 251.50h1v1h-1zM549.5 251.50h1v1h-1zM562 251.50h1v1h-1zM574.5 251.50h1v1h-1zM587 251.50h1v1h-1zM599.5 251.50h1v1h-1zM612 251.50h1v1h-1zM624.5 251.50h1v1h-1zM637 251.50h1v1h-1zM649.5 251.50h1v1h-1zM662 251.50h1v1h-1zM674.5 251.50h1v1h-1zM687 251.50h1v1h-1zM699.5 251.50h1v1h-1zM712 251.50h1v1h-1zM724.5 251.50h1v1h-1zM737 251.50h1v1h-1zM749.5 251.50h1v1h-1zM762 251.50h1v1h-1zM774.5 251.50h1v1h-1zM787 251.50h1v1h-1zM799.5 251.50h1v1h-1zM-0.5 263.44h1v1h-1zM12 263.44h1v1h-1zM24.5 263.44h1v1h-1zM37 263.44h1v1h-1zM49.5 263.44h1v1h-1zM62 263.44h1v1h-1zM74.5 263.44h1v1h-1zM87 263.44h1v1h-1zM99.5 263.44h1v1h-1zM112 263.44h1v1h-1zM124.5 263.44h1v1h-1zM137 263.44h1v1h-1zM149.5 263.44h1v1h-1zM162 263.44h1v1h-1zM174.5 263.44h1v1h-1zM187 263.44h1v1h-1zM199.5 263.44h1v1h-1zM212 263.44h1v1h-1zM224.5 263.44h1v1h-1zM237 263.44h1v1h-1zM249.5 263.44h1v1h-1zM262 263.44h1v1h-1zM274.5 263.44h1v1h-1zM287 263.44h1v1h-1zM299.5 263.44h1v1h-1zM312 263.44h1v1h-1zM324.5 263.44h1v1h-1zM337 263.44h1v1h-1zM349.5 263.44h1v1h-1zM362 263.44h1v1h-1zM374.5 263.44h1v1h-1zM387 263.44h1v1h-1zM399.5 263.44h1v1h-1zM412 263.44h1v1h-1zM424.5 263.44h1v1h-1zM437 263.44h1v1h-1zM449.5 263.44h1v1h-1zM462 263.44h1v1h-1zM474.5 263.44h1v1h-1zM487 263.44h1v1h-1zM499.5 263.44h1v1h-1zM512 263.44h1v1h-1zM524.5 263.44h1v1h-1zM537 263.44h1v1h-1zM549.5 263.44h1v1h-1zM562 263.44h1v1h-1zM574.5 263.44h1v1h-1zM587 263.44h1v1h-1zM599.5 263.44h1v1h-1zM612 263.44h1v1h-1zM624.5 263.44h1v1h-1zM637 263.44h1v1h-1zM649.5 263.44h1v1h-1zM662 263.44h1v1h-1zM674.5 263.44h1v1h-1zM687 263.44h1v1h-1zM699.5 263.44h1v1h-1zM712 263.44h1v1h-1zM724.5 263.44h1v1h-1zM737 263.44h1v1h-1zM749.5 263.44h1v1h-1zM762 263.44h1v1h-1zM774.5 263.44h1v1h-1zM787 263.44h1v1h-1zM799.5 263.44h1v1h-1zM-0.5 275.38h1v1h-1zM12 275.38h1v1h-1zM24.5 275.38h1v1h-1zM37 275.38h1v1h-1zM49.5 275.38h1v1h-1zM62 275.38h1v1h-1zM74.5 275.38h1v1h-1zM87 275.38h1v1h-1zM99.5 275.38h1v1h-1zM112 275.38h1v1h-1zM124.5 275.38h1v1h-1zM137 275.38h1v1h-1zM149.5 275.38h1v1h-1zM162 275.38h1v1h-1zM174.5 275.38h1v1h-1zM187 275.38h1v1h-1zM199.5 275.38h1v1h-1zM212 275.38h1v1h-1zM224.5 275.38h1v1h-1zM237 275.38h1v1h-1zM249.5 275.38h1v1h-1zM262 275.38h1v1h-1zM274.5 275.38h1v1h-1zM287 275.38h1v1h-1zM299.5 275.38h1v1h-1zM312 275.38h1v1h-1zM324.5 275.38h1v1h-1zM337 275.38h1v1h-1zM349.5 275.38h1v1h-1zM362 275.38h1v1h-1zM374.5 275.38h1v1h-1zM387 275.38h1v1h-1zM399.5 275.38h1v1h-1zM412 275.38h1v1h-1zM424.5 275.38h1v1h-1zM437 275.38h1v1h-1zM449.5 275.38h1v1h-1zM462 275.38h1v1h-1zM474.5 275.38h1v1h-1zM487 275.38h1v1h-1zM499.5 275.38h1v1h-1zM512 275.38h1v1h-1zM524.5 275.38h1v1h-1zM537 275.38h1v1h-1zM549.5 275.38h1v1h-1zM562 275.38h1v1h-1zM574.5 275.38h1v1h-1zM587 275.38h1v1h-1zM599.5 275.38h1v1h-1zM612 275.38h1v1h-1zM624.5 275.38h1v1h-1zM637 275.38h1v1h-1zM649.5 275.38h1v1h-1zM662 275.38h1v1h-1zM674.5 275.38h1v1h-1zM687 275.38h1v1h-1zM699.5 275.38h1v1h-1zM712 275.38h1v1h-1zM724.5 275.38h1v1h-1zM737 275.38h1v1h-1zM749.5 275.38h1v1h-1zM762 275.38h1v1h-1zM774.5 275.38h1v1h-1zM787 275.38h1v1h-1zM799.5 275.38h1v1h-1zM-0.5 287.32h1v1h-1zM12 287.32h1v1h-1zM24.5 287.32h1v1h-1zM37 287.32h1v1h-1zM49.5 287.32h1v1h-1zM62 287.32h1v1h-1zM74.5 287.32h1v1h-1zM87 287.32h1v1h-1zM99.5 287.32h1v1h-1zM112 287.32h1v1h-1zM124.5 287.32h1v1h-1zM137 287.32h1v1h-1zM149.5 287.32h1v1h-1zM162 287.32h1v1h-1zM174.5 287.32h1v1h-1zM187 287.32h1v1h-1zM199.5 287.32h1v1h-1zM212 287.32h1v1h-1zM224.5 287.32h1v1h-1zM237 287.32h1v1h-1zM249.5 287.32h1v1h-1zM262 287.32h1v1h-1zM274.5 287.32h1v1h-1zM287 287.32h1v1h-1zM299.5 287.32h1v1h-1zM312 287.32h1v1h-1zM324.5 287.32h1v1h-1zM337 287.32h1v1h-1zM349.5 287.32h1v1h-1zM362 287.32h1v1h-1zM374.5 287.32h1v1h-1zM387 287.32h1v1h-1zM399.5 287.32h1v1h-1zM412 287.32h1v1h-1zM424.5 287.32h1v1h-1zM437 287.32h1v1h-1zM449.5 287.32h1v1h-1zM462 287.32h1v1h-1zM474.5 287.32h1v1h-1zM487 287.32h1v1h-1zM499.5 287.32h1v1h-1zM512 287.32h1v1h-1zM524.5 287.32h1v1h-1zM537 287.32h1v1h-1zM549.5 287.32h1v1h-1zM562 287.32h1v1h-1zM574.5 287.32h1v1h-1zM587 287.32h1v1h-1zM599.5 287.32h1v1h-1zM612 287.32h1v1h-1zM624.5 287.32h1v1h-1zM637 287.32h1v1h-1zM649.5 287.32h1v1h-1zM662 287.32h1v1h-1zM674.5 287.32h1v1h-1zM687 287.32h1v1h-1zM699.5 287.32h1v1h-1zM712 287.32h1v1h-1zM724.5 287.32h1v1h-1zM737 287.32h1v1h-1zM749.5 287.32h1v1h-1zM762 287.32h1v1h-1zM774.5 287.32h1v1h-1zM787 287.32h1v1h-1zM799.5 287.32h1v1h-1zM-0.5 299.26h1v1h-1zM12 299.26h1v1h-1zM24.5 299.26h1v1h-1zM37 299.26h1v1h-1zM49.5 299.26h1v1h-1zM62 299.26h1v1h-1zM74.5 299.26h1v1h-1zM87 299.26h1v1h-1zM99.5 299.26h1v1h-1zM112 299.26h1v1h-1zM124.5 299.26h1v1h-1zM137 299.26h1v1h-1zM149.5 299.26h1v1h-1zM162 299.26h1v1h-1zM174.5 299.26h1v1h-1zM187 299.26h1v1h-1zM199.5 299.26h1v1h-1zM212 299.26h1v1h-1zM224.5 299.26h1v1h-1zM237 299.26h1v1h-1zM249.5 299.26h1v1h-1zM262 299.26h1v1h-1zM274.5 299.26h1v1h-1zM287 299.26h1v1h-1zM299.5 299.26h1v1h-1zM312 299.26h1v1h-1zM324.5 299.26h1v1h-1zM337 299.26h1v1h-1zM349.5 299.26h1v1h-1zM362 299.26h1v1h-1zM374.5 299.26h1v1h-1zM387 299.26h1v1h-1zM399.5 299.26h1v1h-1zM412 299.26h1v1h-1zM424.5 299.26h1v1h-1zM437 299.26h1v1h-1zM449.5 299.26h1v1h-1zM462 299.26h1v1h-1zM474.5 299.26h1v1h-1zM487 299.26h1v1h-1zM499.5 299.26h1v1h-1zM512 299.26h1v1h-1zM524.5 299.26h1v1h-1zM537 299.26h1v1h-1zM549.5 299.26h1v1h-1zM562 299.26h1v1h-1zM574.5 299.26h1v1h-1zM587 299.26h1v1h-1zM599.5 299.26h1v1h-1zM612 299.26h1v1h-1zM624.5 299.26h1v1h-1zM637 299.26h1v1h-1zM649.5 299.26h1v1h-1zM662 299.26h1v1h-1zM674.5 299.26h1v1h-1zM687 299.26h1v1h-1zM699.5 299.26h1v1h-1zM712 299.26h1v1h-1zM724.5 299.26h1v1h-1zM737 299.26h1v1h-1zM749.5 299.26h1v1h-1zM762 299.26h1v1h-1zM774.5 299.26h1v1h-1zM787 299.26h1v1h-1zM799.5 299.26h1v1h-1zM-0.5 311.20h1v1h-1zM12 311.20h1v1h-1zM24.5 311.20h1v1h-1zM37 311.20h1v1h-1zM49.5 311.20h1v1h-1zM62 311.20h1v1h-1zM74.5 311.20h1v1h-1zM87 311.20h1v1h-1zM99.5 311.20h1v1h-1zM112 311.20h1v1h-1zM124.5 311.20h1v1h-1zM137 311.20h1v1h-1zM149.5 311.20h1v1h-1zM162 311.20h1v1h-1zM174.5 311.20h1v1h-1zM187 311.20h1v1h-1zM199.5 311.20h1v1h-1zM212 311.20h1v1h-1zM224.5 311.20h1v1h-1zM237 311.20h1v1h-1zM249.5 311.20h1v1h-1zM262 311.20h1v1h-1zM274.5 311.20h1v1h-1zM287 311.20h1v1h-1zM299.5 311.20h1v1h-1zM312 311.20h1v1h-1zM324.5 311.20h1v1h-1zM337 311.20h1v1h-1zM349.5 311.20h1v1h-1zM362 311.20h1v1h-1zM374.5 311.20h1v1h-1zM387 311.20h1v1h-1zM399.5 311.20h1v1h-1zM412 311.20h1v1h-1zM424.5 311.20h1v1h-1zM437 311.20h1v1h-1zM449.5 311.20h1v1h-1zM462 311.20h1v1h-1zM474.5 311.20h1v1h-1zM487 311.20h1v1h-1zM499.5 311.20h1v1h-1zM512 311.20h1v1h-1zM524.5 311.20h1v1h-1zM537 311.20h1v1h-1zM549.5 311.20h1v1h-1zM562 311.20h1v1h-1zM574.5 311.20h1v1h-1zM587 311.20h1v1h-1zM599.5 311.20h1v1h-1zM612 311.20h1v1h-1zM624.5 311.20h1v1h-1zM637 311.20h1v1h-1zM649.5 311.20h1v1h-1zM662 311.20h1v1h-1zM674.5 311.20h1v1h-1zM687 311.20h1v1h-1zM699.5 311.20h1v1h-1zM712 311.20h1v1h-1zM724.5 311.20h1v1h-1zM737 311.20h1v1h-1zM749.5 311.20h1v1h-1zM762 311.20h1v1h-1zM774.5 311.20h1v1h-1zM787 311.20h1v1h-1zM799.5 311.20h1v1h-1zM-0.5 323.14h1v1h-1zM12 323.14h1v1h-1zM24.5 323.14h1v1h-1zM37 323.14h1v1h-1zM49.5 323.14h1v1h-1zM62 323.14h1v1h-1zM74.5 323.14h1v1h-1zM87 323.14h1v1h-1zM99.5 323.14h1v1h-1zM112 323.14h1v1h-1zM124.5 323.14h1v1h-1zM137 323.14h1v1h-1zM149.5 323.14h1v1h-1zM162 323.14h1v1h-1zM174.5 323.14h1v1h-1zM187 323.14h1v1h-1zM199.5 323.14h1v1h-1zM212 323.14h1v1h-1zM224.5 323.14h1v1h-1zM237 323.14h1v1h-1zM249.5 323.14h1v1h-1zM262 323.14h1v1h-1zM274.5 323.14h1v1h-1zM287 323.14h1v1h-1zM299.5 323.14h1v1h-1zM312 323.14h1v1h-1zM324.5 323.14h1v1h-1zM337 323.14h1v1h-1zM349.5 323.14h1v1h-1zM362 323.14h1v1h-1zM374.5 323.14h1v1h-1zM387 323.14h1v1h-1zM399.5 323.14h1v1h-1zM412 323.14h1v1h-1zM424.5 323.14h1v1h-1zM437 323.14h1v1h-1zM449.5 323.14h1v1h-1zM462 323.14h1v1h-1zM474.5 323.14h1v1h-1zM487 323.14h1v1h-1zM499.5 323.14h1v1h-1zM512 323.14h1v1h-1zM524.5 323.14h1v1h-1zM537 323.14h1v1h-1zM549.5 323.14h1v1h-1zM562 323.14h1v1h-1zM574.5 323.14h1v1h-1zM587 323.14h1v1h-1zM599.5 323.14h1v1h-1zM612 323.14h1v1h-1zM624.5 323.14h1v1h-1zM637 323.14h1v1h-1zM649.5 323.14h1v1h-1zM662 323.14h1v1h-1zM674.5 323.14h1v1h-1zM687 323.14h1v1h-1zM699.5 323.14h1v1h-1zM712 323.14h1v1h-1zM724.5 323.14h1v1h-1zM737 323.14h1v1h-1zM749.5 323.14h1v1h-1zM762 323.14h1v1h-1zM774.5 323.14h1v1h-1zM787 323.14h1v1h-1zM799.5 323.14h1v1h-1zM-0.5 335.08h1v1h-1zM12 335.08h1v1h-1zM24.5 335.08h1v1h-1zM37 335.08h1v1h-1zM49.5 335.08h1v1h-1zM62 335.08h1v1h-1zM74.5 335.08h1v1h-1zM87 335.08h1v1h-1zM99.5 335.08h1v1h-1zM112 335.08h1v1h-1zM124.5 335.08h1v1h-1zM137 335.08h1v1h-1zM149.5 335.08h1v1h-1zM162 335.08h1v1h-1zM174.5 335.08h1v1h-1zM187 335.08h1v1h-1zM199.5 335.08h1v1h-1zM212 335.08h1v1h-1zM224.5 335.08h1v1h-1zM237 335.08h1v1h-1zM249.5 335.08h1v1h-1zM262 335.08h1v1h-1zM274.5 335.08h1v1h-1zM287 335.08h1v1h-1zM299.5 335.08h1v1h-1zM312 335.08h1v1h-1zM324.5 335.08h1v1h-1zM337 335.08h1v1h-1zM349.5 335.08h1v1h-1zM362 335.08h1v1h-1zM374.5 335.08h1v1h-1zM387 335.08h1v1h-1zM399.5 335.08h1v1h-1zM412 335.08h1v1h-1zM424.5 335.08h1v1h-1zM437 335.08h1v1h-1zM449.5 335.08h1v1h-1zM462 335.08h1v1h-1zM474.5 335.08h1v1h-1zM487 335.08h1v1h-1zM499.5 335.08h1v1h-1zM512 335.08h1v1h-1zM524.5 335.08h1v1h-1zM537 335.08h1v1h-1zM549.5 335.08h1v1h-1zM562 335.08h1v1h-1zM574.5 335.08h1v1h-1zM587 335.08h1v1h-1zM599.5 335.08h1v1h-1zM612 335.08h1v1h-1zM624.5 335.08h1v1h-1zM637 335.08h1v1h-1zM649.5 335.08h1v1h-1zM662 335.08h1v1h-1zM674.5 335.08h1v1h-1zM687 335.08h1v1h-1zM699.5 335.08h1v1h-1zM712 335.08h1v1h-1zM724.5 335.08h1v1h-1zM737 335.08h1v1h-1zM749.5 335.08h1v1h-1zM762 335.08h1v1h-1zM774.5 335.08h1v1h-1zM787 335.08h1v1h-1zM799.5 335.08h1v1h-1zM-0.5 347.02h1v1h-1zM12 347.02h1v1h-1zM24.5 347.02h1v1h-1zM37 347.02h1v1h-1zM49.5 347.02h1v1h-1zM62 347.02h1v1h-1zM74.5 347.02h1v1h-1zM87 347.02h1v1h-1zM99.5 347.02h1v1h-1zM112 347.02h1v1h-1zM124.5 347.02h1v1h-1zM137 347.02h1v1h-1zM149.5 347.02h1v1h-1zM162 347.02h1v1h-1zM174.5 347.02h1v1h-1zM187 347.02h1v1h-1zM199.5 347.02h1v1h-1zM212 347.02h1v1h-1zM224.5 347.02h1v1h-1zM237 347.02h1v1h-1zM249.5 347.02h1v1h-1zM262 347.02h1v1h-1zM274.5 347.02h1v1h-1zM287 347.02h1v1h-1zM299.5 347.02h1v1h-1zM312 347.02h1v1h-1zM324.5 347.02h1v1h-1zM337 347.02h1v1h-1zM349.5 347.02h1v1h-1zM362 347.02h1v1h-1zM374.5 347.02h1v1h-1zM387 347.02h1v1h-1zM399.5 347.02h1v1h-1zM412 347.02h1v1h-1zM424.5 347.02h1v1h-1zM437 347.02h1v1h-1zM449.5 347.02h1v1h-1zM462 347.02h1v1h-1zM474.5 347.02h1v1h-1zM487 347.02h1v1h-1zM499.5 347.02h1v1h-1zM512 347.02h1v1h-1zM524.5 347.02h1v1h-1zM537 347.02h1v1h-1zM549.5 347.02h1v1h-1zM562 347.02h1v1h-1zM574.5 347.02h1v1h-1zM587 347.02h1v1h-1zM599.5 347.02h1v1h-1zM612 347.02h1v1h-1zM624.5 347.02h1v1h-1zM637 347.02h1v1h-1zM649.5 347.02h1v1h-1zM662 347.02h1v1h-1zM674.5 347.02h1v1h-1zM687 347.02h1v1h-1zM699.5 347.02h1v1h-1zM712 347.02h1v1h-1zM724.5 347.02h1v1h-1zM737 347.02h1v1h-1zM749.5 347.02h1v1h-1zM762 347.02h1v1h-1zM774.5 347.02h1v1h-1zM787 347.02h1v1h-1zM799.5 347.02h1v1h-1zM-0.5 358.96h1v1h-1zM12 358.96h1v1h-1zM24.5 358.96h1v1h-1zM37 358.96h1v1h-1zM49.5 358.96h1v1h-1zM62 358.96h1v1h-1zM74.5 358.96h1v1h-1zM87 358.96h1v1h-1zM99.5 358.96h1v1h-1zM112 358.96h1v1h-1zM124.5 358.96h1v1h-1zM137 358.96h1v1h-1zM149.5 358.96h1v1h-1zM162 358.96h1v1h-1zM174.5 358.96h1v1h-1zM187 358.96h1v1h-1zM199.5 358.96h1v1h-1zM212 358.96h1v1h-1zM224.5 358.96h1v1h-1zM237 358.96h1v1h-1zM249.5 358.96h1v1h-1zM262 358.96h1v1h-1zM274.5 358.96h1v1h-1zM287 358.96h1v1h-1zM299.5 358.96h1v1h-1zM312 358.96h1v1h-1zM324.5 358.96h1v1h-1zM337 358.96h1v1h-1zM349.5 358.96h1v1h-1zM362 358.96h1v1h-1zM374.5 358.96h1v1h-1zM387 358.96h1v1h-1zM399.5 358.96h1v1h-1zM412 358.96h1v1h-1zM424.5 358.96h1v1h-1zM437 358.96h1v1h-1zM449.5 358.96h1v1h-1zM462 358.96h1v1h-1zM474.5 358.96h1v1h-1zM487 358.96h1v1h-1zM499.5 358.96h1v1h-1zM512 358.96h1v1h-1zM524.5 358.96h1v1h-1zM537 358.96h1v1h-1zM549.5 358.96h1v1h-1zM562 358.96h1v1h-1zM574.5 358.96h1v1h-1zM587 358.96h1v1h-1zM599.5 358.96h1v1h-1zM612 358.96h1v1h-1zM624.5 358.96h1v1h-1zM637 358.96h1v1h-1zM649.5 358.96h1v1h-1zM662 358.96h1v1h-1zM674.5 358.96h1v1h-1zM687 358.96h1v1h-1zM699.5 358.96h1v1h-1zM712 358.96h1v1h-1zM724.5 358.96h1v1h-1zM737 358.96h1v1h-1zM749.5 358.96h1v1h-1zM762 358.96h1v1h-1zM774.5 358.96h1v1h-1zM787 358.96h1v1h-1zM799.5 358.96h1v1h-1zM-0.5 370.90h1v1h-1zM12 370.90h1v1h-1zM24.5 370.90h1v1h-1zM37 370.90h1v1h-1zM49.5 370.90h1v1h-1zM62 370.90h1v1h-1zM74.5 370.90h1v1h-1zM87 370.90h1v1h-1zM99.5 370.90h1v1h-1zM112 370.90h1v1h-1zM124.5 370.90h1v1h-1zM137 370.90h1v1h-1zM149.5 370.90h1v1h-1zM162 370.90h1v1h-1zM174.5 370.90h1v1h-1zM187 370.90h1v1h-1zM199.5 370.90h1v1h-1zM212 370.90h1v1h-1zM224.5 370.90h1v1h-1zM237 370.90h1v1h-1zM249.5 370.90h1v1h-1zM262 370.90h1v1h-1zM274.5 370.90h1v1h-1zM287 370.90h1v1h-1zM299.5 370.90h1v1h-1zM312 370.90h1v1h-1zM324.5 370.90h1v1h-1zM337 370.90h1v1h-1zM349.5 370.90h1v1h-1zM362 370.90h1v1h-1zM374.5 370.90h1v1h-1zM387 370.90h1v1h-1zM399.5 370.90h1v1h-1zM412 370.90h1v1h-1zM424.5 370.90h1v1h-1zM437 370.90h1v1h-1zM449.5 370.90h1v1h-1zM462 370.90h1v1h-1zM474.5 370.90h1v1h-1zM487 370.90h1v1h-1zM499.5 370.90h1v1h-1zM512 370.90h1v1h-1zM524.5 370.90h1v1h-1zM537 370.90h1v1h-1zM549.5 370.90h1v1h-1zM562 370.90h1v1h-1zM574.5 370.90h1v1h-1zM587 370.90h1v1h-1zM599.5 370.90h1v1h-1zM612 370.90h1v1h-1zM624.5 370.90h1v1h-1zM637 370.90h1v1h-1zM649.5 370.90h1v1h-1zM662 370.90h1v1h-1zM674.5 370.90h1v1h-1zM687 370.90h1v1h-1zM699.5 370.90h1v1h-1zM712 370.90h1v1h-1zM724.5 370.90h1v1h-1zM737 370.90h1v1h-1zM749.5 370.90h1v1h-1zM762 370.90h1v1h-1zM774.5 370.90h1v1h-1zM787 370.90h1v1h-1zM799.5 370.90h1v1h-1zM-0.5 382.84h1v1h-1zM12 382.84h1v1h-1zM24.5 382.84h1v1h-1zM37 382.84h1v1h-1zM49.5 382.84h1v1h-1zM62 382.84h1v1h-1zM74.5 382.84h1v1h-1zM87 382.84h1v1h-1zM99.5 382.84h1v1h-1zM112 382.84h1v1h-1zM124.5 382.84h1v1h-1zM137 382.84h1v1h-1zM149.5 382.84h1v1h-1zM162 382.84h1v1h-1zM174.5 382.84h1v1h-1zM187 382.84h1v1h-1zM199.5 382.84h1v1h-1zM212 382.84h1v1h-1zM224.5 382.84h1v1h-1zM237 382.84h1v1h-1zM249.5 382.84h1v1h-1zM262 382.84h1v1h-1zM274.5 382.84h1v1h-1zM287 382.84h1v1h-1zM299.5 382.84h1v1h-1zM312 382.84h1v1h-1zM324.5 382.84h1v1h-1zM337 382.84h1v1h-1zM349.5 382.84h1v1h-1zM362 382.84h1v1h-1zM374.5 382.84h1v1h-1zM387 382.84h1v1h-1zM399.5 382.84h1v1h-1zM412 382.84h1v1h-1zM424.5 382.84h1v1h-1zM437 382.84h1v1h-1zM449.5 382.84h1v1h-1zM462 382.84h1v1h-1zM474.5 382.84h1v1h-1zM487 382.84h1v1h-1zM499.5 382.84h1v1h-1zM512 382.84h1v1h-1zM524.5 382.84h1v1h-1zM537 382.84h1v1h-1zM549.5 382.84h1v1h-1zM562 382.84h1v1h-1zM574.5 382.84h1v1h-1zM587 382.84h1v1h-1zM599.5 382.84h1v1h-1zM612 382.84h1v1h-1zM624.5 382.84h1v1h-1zM637 382.84h1v1h-1zM649.5 382.84h1v1h-1zM662 382.84h1v1h-1zM674.5 382.84h1v1h-1zM687 382.84h1v1h-1zM699.5 382.84h1v1h-1zM712 382.84h1v1h-1zM724.5 382.84h1v1h-1zM737 382.84h1v1h-1zM749.5 382.84h1v1h-1zM762 382.84h1v1h-1zM774.5 382.84h1v1h-1zM787 382.84h1v1h-1zM799.5 382.84h1v1h-1zM-0.5 394.78h1v1h-1zM12 394.78h1v1h-1zM24.5 394.78h1v1h-1zM37 394.78h1v1h-1zM49.5 394.78h1v1h-1zM62 394.78h1v1h-1zM74.5 394.78h1v1h-1zM87 394.78h1v1h-1zM99.5 394.78h1v1h-1zM112 394.78h1v1h-1zM124.5 394.78h1v1h-1zM137 394.78h1v1h-1zM149.5 394.78h1v1h-1zM162 394.78h1v1h-1zM174.5 394.78h1v1h-1zM187 394.78h1v1h-1zM199.5 394.78h1v1h-1zM212 394.78h1v1h-1zM224.5 394.78h1v1h-1zM237 394.78h1v1h-1zM249.5 394.78h1v1h-1zM262 394.78h1v1h-1zM274.5 394.78h1v1h-1zM287 394.78h1v1h-1zM299.5 394.78h1v1h-1zM312 394.78h1v1h-1zM324.5 394.78h1v1h-1zM337 394.78h1v1h-1zM349.5 394.78h1v1h-1zM362 394.78h1v1h-1zM374.5 394.78h1v1h-1zM387 394.78h1v1h-1zM399.5 394.78h1v1h-1zM412 394.78h1v1h-1zM424.5 394.78h1v1h-1zM437 394.78h1v1h-1zM449.5 394.78h1v1h-1zM462 394.78h1v1h-1zM474.5 394.78h1v1h-1zM487 394.78h1v1h-1zM499.5 394.78h1v1h-1zM512 394.78h1v1h-1zM524.5 394.78h1v1h-1zM537 394.78h1v1h-1zM549.5 394.78h1v1h-1zM562 394.78h1v1h-1zM574.5 394.78h1v1h-1zM587 394.78h1v1h-1zM599.5 394.78h1v1h-1zM612 394.78h1v1h-1zM624.5 394.78h1v1h-1zM637 394.78h1v1h-1zM649.5 394.78h1v1h-1zM662 394.78h1v1h-1zM674.5 394.78h1v1h-1zM687 394.78h1v1h-1zM699.5 394.78h1v1h-1zM712 394.78h1v1h-1zM724.5 394.78h1v1h-1zM737 394.78h1v1h-1zM749.5 394.78h1v1h-1zM762 394.78h1v1h-1zM774.5 394.78h1v1h-1zM787 394.78h1v1h-1zM799.5 394.78h1v1h-1zM-0.5 406.72h1v1h-1zM12 406.72h1v1h-1zM24.5 406.72h1v1h-1zM37 406.72h1v1h-1zM49.5 406.72h1v1h-1zM62 406.72h1v1h-1zM74.5 406.72h1v1h-1zM87 406.72h1v1h-1zM99.5 406.72h1v1h-1zM112 406.72h1v1h-1zM124.5 406.72h1v1h-1zM137 406.72h1v1h-1zM149.5 406.72h1v1h-1zM162 406.72h1v1h-1zM174.5 406.72h1v1h-1zM187 406.72h1v1h-1zM199.5 406.72h1v1h-1zM212 406.72h1v1h-1zM224.5 406.72h1v1h-1zM237 406.72h1v1h-1zM249.5 406.72h1v1h-1zM262 406.72h1v1h-1zM274.5 406.72h1v1h-1zM287 406.72h1v1h-1zM299.5 406.72h1v1h-1zM312 406.72h1v1h-1zM324.5 406.72h1v1h-1zM337 406.72h1v1h-1zM349.5 406.72h1v1h-1zM362 406.72h1v1h-1zM374.5 406.72h1v1h-1zM387 406.72h1v1h-1zM399.5 406.72h1v1h-1zM412 406.72h1v1h-1zM424.5 406.72h1v1h-1zM437 406.72h1v1h-1zM449.5 406.72h1v1h-1zM462 406.72h1v1h-1zM474.5 406.72h1v1h-1zM487 406.72h1v1h-1zM499.5 406.72h1v1h-1zM512 406.72h1v1h-1zM524.5 406.72h1v1h-1zM537 406.72h1v1h-1zM549.5 406.72h1v1h-1zM562 406.72h1v1h-1zM574.5 406.72h1v1h-1zM587 406.72h1v1h-1zM599.5 406.72h1v1h-1zM612 406.72h1v1h-1zM624.5 406.72h1v1h-1zM637 406.72h1v1h-1zM649.5 406.72h1v1h-1zM662 406.72h1v1h-1zM674.5 406.72h1v1h-1zM687 406.72h1v1h-1zM699.5 406.72h1v1h-1zM712 406.72h1v1h-1zM724.5 406.72h1v1h-1zM737 406.72h1v1h-1zM749.5 406.72h1v1h-1zM762 406.72h1v1h-1zM774.5 406.72h1v1h-1zM787 406.72h1v1h-1zM799.5 406.72h1v1h-1z"/>
<g fill="none" stroke="#000" stroke-width="1.9" stroke-linecap="round" stroke-linejoin="round">
<path d="M69.00 103.50 C74.17 103.43 89.83 103.08 100.00 103.10 C110.17 103.12 120.00 103.52 130.00 103.60 C140.00 103.68 143.33 103.58 160.00 103.60 C176.67 103.62 215.00 103.75 230.00 103.70 C245.00 103.65 243.33 103.28 250.00 103.30 C256.67 103.32 260.00 103.73 270.00 103.80 C280.00 103.87 296.67 103.83 310.00 103.70 C323.33 103.57 338.33 103.13 350.00 103.00 C361.67 102.87 372.50 102.82 380.00 102.90 C387.50 102.98 390.00 103.35 395.00 103.50 C400.00 103.65 402.50 103.88 410.00 103.80 C417.50 103.72 428.33 103.00 440.00 103.00 C451.67 103.00 466.67 103.70 480.00 103.80 C493.33 103.90 493.33 103.67 520.00 103.60 C546.67 103.53 616.67 103.48 640.00 103.40 C663.33 103.32 641.08 103.08 660.00 103.10 C678.92 103.12 737.92 103.43 753.50 103.50"/>
<path d="M369.10 65.10 C369.27 69.25 369.85 80.85 370.10 90.00 C370.35 99.15 370.53 108.33 370.60 120.00 C370.67 131.67 370.45 150.00 370.50 160.00 C370.55 170.00 370.67 171.67 370.90 180.00 C371.13 188.33 371.57 200.00 371.90 210.00 C372.23 220.00 372.72 228.33 372.90 240.00 C373.08 251.67 372.92 270.00 373.00 280.00 C373.08 290.00 373.25 294.83 373.40 300.00 C373.55 305.17 373.82 309.17 373.90 311.00"/>
</g>
<g fill="#fff" stroke="#000" stroke-width="1.8" stroke-linecap="round" stroke-linejoin="round">
<path d="M68 169 L89.5 169 L90 189 L68.5 190 Z"/>
<path d="M68.5 223.5 L90 223.3 L90 244.2 L68.5 244.6 Z"/>
<path d="M68.5 276.9 L89.75 276.9 L89.75 297.5 L68.5 297.9 Z"/>
</g>
<g fill="none" stroke="#000" stroke-width="1.8" stroke-linecap="round" stroke-linejoin="round">
<path d="M74.7 175.2 L77.4 182.3 L83.3 176.6 L90.8 163.6"/>
<path d="M74.7 229.9 L77.4 237 L83.3 231.3 L90.6 218.5"/>
</g>
<!-- toggle 1 -->
<g stroke="#000" stroke-width="1.8" stroke-linejoin="round">
<path d="M204 159 L245.2 159 C244.5 172, 244.5 185, 245.2 198 L204 198 C203.3 185, 203.3 172, 204 159Z" fill="#fff"/>
<path d="M245.2 159 L296 158.8 L296 198 C280 198.6, 260 198.6, 245.2 198 C244.5 185, 244.5 172, 245.2 159Z" fill="#c8c8c8"/>
<path d="M293.9 159 L293.9 198" stroke-width="1.3" fill="none"/>
<path d="M296.5 158.8 L296.5 198" stroke-width="1.5" fill="none"/>
</g>
<!-- toggle 2 -->
<g stroke="#000" stroke-width="1.8" stroke-linejoin="round">
<path d="M202.2 211.9 C230 213, 250 213, 269 212 L269 251.6 C250 251.8, 230 251.4, 202.2 251.1 C202 238, 202 225, 202.2 211.9Z" fill="#fff"/>
<path d="M269 212 L296 211.8 L296 251.3 L269 251.6 Z" fill="#c8c8c8"/>
<path d="M293.9 212 L293.9 251.3" stroke-width="1.3" fill="none"/>
<path d="M296.5 211.8 L296.5 251.3" stroke-width="1.5" fill="none"/>
</g>
<!-- toggle 3 -->
<g stroke-width="1.8" stroke-linejoin="round">
<path d="M245.2 264.9 L204.4 265.2 L204.4 304.1 L245.2 303.8" stroke="#888" fill="#fff"/>
<path d="M245.2 264.9 L295.4 264.9 L295.4 304.1 L245.2 303.8 C244.6 290, 244.6 278, 245.2 264.9Z" stroke="#000" fill="#fff"/>
<path d="M296.8 266 L296.8 304" stroke="#7a7a7a" stroke-width="1.2" fill="none"/>

</g>
<!-- display checkboxes -->
<g stroke-width="1.65" stroke-linejoin="round" stroke-linecap="round">
<path d="M663 169.7 C672 170.3, 680 170.3, 690.1 169.7 C689.5 178, 689.5 188, 690.1 196.7 L663.2 196.7 C662.5 188, 662.5 178, 663 169.7Z" stroke="#000" fill="#fff"/>
<path d="M662.7 227.7 C672 228.3, 680 228.3, 690.5 227.7 L690.5 255.1 L662.7 255.1 C662.3 246, 662.3 236, 662.7 227.7Z" stroke="#000" fill="#f7f7f7"/>
<path d="M663.3 285.5 C672 286.1, 680 286.1, 690.1 285.5 L690.1 311.6 L663.3 311.6 C662.9 303, 662.9 294, 663.3 285.5Z" stroke="#999" fill="none"/>
</g>
<!-- monitor icon -->
<defs><linearGradient id="scr" x1="0" y1="0" x2="0" y2="1">
<stop offset="0" stop-color="#5cbfce"/><stop offset="0.22" stop-color="#6cc6d4"/>
<stop offset="0.28" stop-color="#c8eef3"/><stop offset="0.36" stop-color="#48b6c7"/>
<stop offset="1" stop-color="#1690a6"/></linearGradient></defs>
<rect x="670.1" y="235.7" width="13.7" height="7.1" rx="0.6" fill="url(#scr)"/>
<rect x="676.3" y="242.6" width="2" height="3.8" fill="#2aa2b5"/>
<ellipse cx="677.3" cy="247" rx="2.9" ry="1.1" fill="#2aa2b5"/>
<g fill="none" stroke="#000" stroke-width="1.2" stroke-linecap="round">
<path d="M410.6 141.4 Q405.1 147.3 410.6 153.2"/>
<path d="M526.2 141.4 Q531.5 147.3 526.2 153.2"/>
<path d="M617.6 140.4 Q612.1 146.3 617.6 152.2"/>
<path d="M738.2 140.4 Q744.1 146.3 738.2 152.2"/>
</g>
<path d="M630.1 150.4 L634.3 141.6" stroke="#000" stroke-width="1.15" stroke-linecap="round"/>

<text x="462.96" y="84.80" font-size="20" textLength="69.31" lengthAdjust="spacingAndGlyphs" style="fill:#000">P<tspan font-size="18.00">urpose</tspan></text>
<text x="537.31" y="84.80" font-size="20" textLength="19.67" lengthAdjust="spacingAndGlyphs" style="fill:#000"><tspan font-size="18.00">o</tspan>f</text>
<text x="563.27" y="84.80" font-size="20" textLength="77.13" lengthAdjust="spacingAndGlyphs" style="fill:#000">N<tspan font-size="18.00">e</tspan>t<tspan font-size="18.00">wor</tspan>k</text>
<text x="202.95" y="134.50" font-size="20" textLength="90.76" lengthAdjust="spacingAndGlyphs" style="fill:#000">M<tspan font-size="18.00">oni</tspan>t<tspan font-size="18.00">ore</tspan>d</text>
<text x="407.17" y="134.00" font-size="20" textLength="28.72" lengthAdjust="spacingAndGlyphs" style="fill:#000">VM</text>
<text x="440.72" y="134.00" font-size="20" textLength="71.14" lengthAdjust="spacingAndGlyphs" style="fill:#000"><tspan font-size="18.00">ne</tspan>t<tspan font-size="18.00">wor</tspan>k</text>
<text transform="translate(412.47 150.40) scale(1.15 1)" x="0" y="0" font-size="11" textLength="22.67" lengthAdjust="spacing" style="fill:#000">Was</text>
<text transform="translate(441.38 150.40) scale(1.15 1)" x="0" y="0" font-size="11" textLength="41.17" lengthAdjust="spacing" style="fill:#000">defined</text>
<text transform="translate(494.45 150.40) scale(1.15 1)" x="0" y="0" font-size="11" textLength="8.85" lengthAdjust="spacing" style="fill:#000">in</text>
<text transform="translate(508.85 150.40) scale(1.15 1)" x="0" y="0" font-size="11" textLength="14.87" lengthAdjust="spacing" style="fill:#000">DC</text>
<text x="612.43" y="130.50" font-size="20" textLength="61.45" lengthAdjust="spacingAndGlyphs" style="fill:#000">D<tspan font-size="18.00">isp</tspan>l<tspan font-size="18.00">ay</tspan></text>
<text x="679.64" y="130.50" font-size="20" textLength="71.29" lengthAdjust="spacingAndGlyphs" style="fill:#000"><tspan font-size="18.00">ne</tspan>t<tspan font-size="18.00">wor</tspan>k</text>
<text x="618.22" y="149.70" font-size="11" textLength="6.34" lengthAdjust="spacingAndGlyphs" style="fill:#000">1</text>
<text transform="translate(639.66 149.70) scale(1.15 1)" x="0" y="0" font-size="11" textLength="23.62" lengthAdjust="spacing" style="fill:#000">none</text>
<text transform="translate(671.30 149.70) scale(1.15 1)" x="0" y="0" font-size="11" textLength="18.42" lengthAdjust="spacing" style="fill:#000">per</text>
<text transform="translate(695.96 149.70) scale(1.15 1)" x="0" y="0" font-size="11" textLength="37.09" lengthAdjust="spacing" style="fill:#000">cluster</text>
<text x="97.44" y="185.50" font-size="20" textLength="30.89" lengthAdjust="spacingAndGlyphs" style="fill:#000"><tspan font-size="18.00">re</tspan>d</text>
<text x="97.69" y="239.80" font-size="20" textLength="49.98" lengthAdjust="spacingAndGlyphs" style="fill:#000"><tspan font-size="18.00">green</tspan></text>
<text x="98.02" y="292.20" font-size="20" textLength="35.96" lengthAdjust="spacingAndGlyphs" style="fill:#000">bl<tspan font-size="18.00">ue</tspan></text>
<text x="257.47" y="185.90" font-size="18.5" textLength="20.41" lengthAdjust="spacingAndGlyphs" style="fill:#000;stroke:#000;stroke-width:0.12">no</text>
<text x="210.09" y="238.00" font-size="20" textLength="11.22" lengthAdjust="spacingAndGlyphs" style="fill:#000;stroke:#000;stroke-width:0.15">V</text>
<text x="257.55" y="291.70" font-size="18.5" textLength="20.36" lengthAdjust="spacingAndGlyphs" style="fill:#858585">no</text>
<text x="434.90" y="184.70" font-size="20" textLength="11.76" lengthAdjust="spacingAndGlyphs" style="fill:#000;stroke:#000;stroke-width:0.15">V</text>
<text x="432.12" y="305.70" font-size="20" textLength="11.64" lengthAdjust="spacingAndGlyphs" style="fill:#888">V</text>
</svg>
</body></html>
